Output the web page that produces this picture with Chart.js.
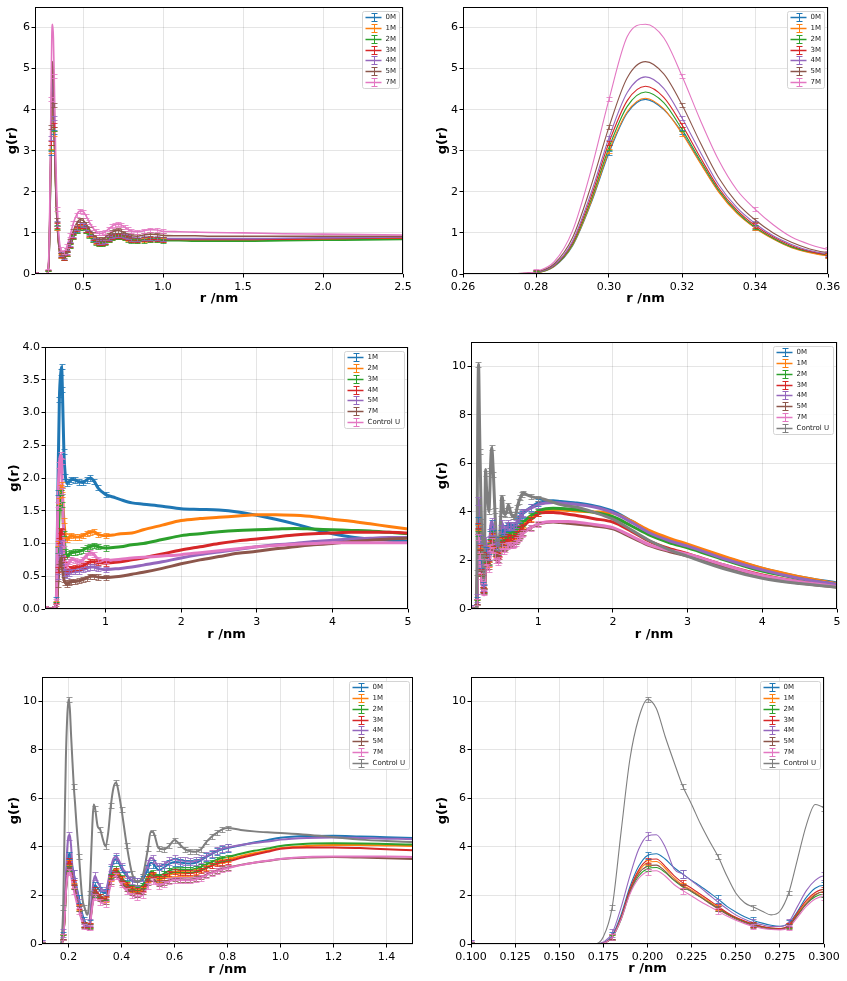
<!DOCTYPE html>
<html><head><meta charset="utf-8">
<script src="https://cdn.jsdelivr.net/npm/chart.js@4.4.1/dist/chart.umd.min.js"></script>
<style>
html,body{margin:0;padding:0;background:#fff;overflow:hidden;width:847px;height:981px;position:relative;}
canvas{position:absolute;}
</style></head><body>
<canvas id="p1"></canvas><canvas id="p2"></canvas><canvas id="p3"></canvas>
<canvas id="p4"></canvas><canvas id="p5"></canvas><canvas id="p6"></canvas>
<script>
// ---------------- DATA ----------------
// Dataset A (top row): RDF, series 0M..7M
const labelsA = ['0M','1M','2M','3M','4M','5M','7M'];
const rA = [0.20,0.27,0.275,0.28,0.285,0.29,0.295,0.30,0.305,0.31,0.315,0.32,0.325,0.33,0.335,0.34,0.345,0.35,0.355,0.36,
  0.37,0.38,0.40,0.42,0.44,0.46,0.48,0.50,0.52,0.54,0.56,0.58,0.60,0.62,0.64,0.66,0.68,0.70,0.72,0.74,0.76,0.78,
  0.80,0.84,0.88,0.92,0.96,1.00,1.10,1.20,1.30,1.50,1.75,2.00,2.25,2.50];
const A_0M = [0,0,0.01,0.03,0.18,0.68,1.7,2.95,3.92,4.25,4.0,3.45,2.72,2.02,1.5,1.13,0.86,0.65,0.53,0.45,
  0.39,0.39,0.5,0.7,0.92,1.08,1.16,1.15,1.07,0.96,0.86,0.79,0.76,0.76,0.79,0.85,0.9,0.93,0.94,0.93,0.9,0.87,
  0.84,0.83,0.85,0.86,0.86,0.85,0.84,0.84,0.84,0.84,0.85,0.86,0.87,0.88];
const A_1M = [0,0,0.01,0.03,0.19,0.7,1.73,3.0,3.95,4.28,4.02,3.42,2.7,2.0,1.48,1.12,0.85,0.64,0.52,0.44,
  0.38,0.38,0.49,0.69,0.9,1.06,1.14,1.13,1.05,0.94,0.84,0.77,0.74,0.74,0.77,0.83,0.88,0.91,0.91,0.9,0.88,0.85,
  0.82,0.81,0.83,0.84,0.84,0.83,0.83,0.83,0.83,0.83,0.83,0.84,0.85,0.86];
const A_2M = [0,0,0.01,0.03,0.2,0.72,1.78,3.08,4.08,4.43,4.17,3.52,2.77,2.05,1.52,1.14,0.87,0.66,0.54,0.46,
  0.38,0.38,0.48,0.68,0.89,1.05,1.13,1.12,1.04,0.93,0.83,0.76,0.73,0.73,0.76,0.82,0.87,0.9,0.9,0.89,0.87,0.84,
  0.81,0.8,0.81,0.82,0.82,0.81,0.81,0.8,0.8,0.8,0.81,0.82,0.83,0.84];
const A_3M = [0,0,0.01,0.04,0.21,0.76,1.86,3.2,4.22,4.57,4.3,3.63,2.84,2.1,1.56,1.18,0.9,0.69,0.55,0.47,
  0.4,0.4,0.51,0.71,0.93,1.09,1.17,1.16,1.08,0.97,0.87,0.8,0.76,0.76,0.79,0.85,0.9,0.93,0.93,0.92,0.9,0.87,
  0.84,0.83,0.85,0.85,0.85,0.84,0.84,0.84,0.84,0.84,0.85,0.86,0.87,0.88];
const A_4M = [0,0,0.01,0.04,0.22,0.8,1.95,3.32,4.42,4.8,4.52,3.8,2.97,2.18,1.62,1.23,0.93,0.72,0.57,0.49,
  0.41,0.41,0.53,0.74,0.96,1.12,1.21,1.2,1.11,1.0,0.9,0.82,0.78,0.78,0.81,0.87,0.92,0.95,0.95,0.94,0.92,0.89,
  0.86,0.85,0.87,0.87,0.87,0.86,0.86,0.86,0.86,0.86,0.87,0.88,0.89,0.9];
const A_5M = [0,0,0.01,0.05,0.25,0.88,2.12,3.58,4.78,5.17,4.87,4.12,3.2,2.35,1.74,1.32,1.0,0.77,0.61,0.52,
  0.45,0.45,0.58,0.81,1.05,1.23,1.32,1.31,1.21,1.09,0.97,0.89,0.85,0.85,0.89,0.96,1.02,1.05,1.06,1.04,1.0,0.96,
  0.93,0.92,0.95,0.97,0.96,0.94,0.93,0.93,0.92,0.92,0.92,0.92,0.92,0.92];
const A_7M = [0,0,0.01,0.06,0.3,1.05,2.5,4.25,5.78,6.08,5.75,4.82,3.75,2.78,2.05,1.58,1.2,0.9,0.72,0.6,
  0.54,0.54,0.68,0.95,1.24,1.44,1.53,1.52,1.41,1.26,1.13,1.04,0.99,0.99,1.03,1.1,1.16,1.2,1.21,1.19,1.14,1.09,
  1.05,1.03,1.05,1.08,1.07,1.04,1.03,1.02,1.01,1.0,0.98,0.97,0.96,0.95];
const errA = [0.05,0.05,0.05,0.05,0.05,0.05,0.05];

// Dataset B (middle left): series 1M..7M, Control U
const labelsB = ['1M','2M','3M','4M','5M','7M','Control U'];
const rB = [0.20,0.33,0.35,0.37,0.39,0.41,0.42,0.43,0.45,0.47,0.49,0.52,0.55,0.60,0.65,0.70,0.75,0.80,0.85,0.90,
  1.0,1.1,1.2,1.35,1.5,1.75,2.0,2.25,2.5,2.75,3.0,3.25,3.5,3.75,4.0,4.25,4.5,4.75,5.0];
const B_1M = [0,0,0.15,1.78,3.2,3.62,3.7,3.35,2.4,2.02,1.92,1.95,1.98,1.97,1.94,1.93,1.97,2.0,1.95,1.85,
  1.75,1.71,1.67,1.62,1.6,1.57,1.53,1.52,1.51,1.48,1.43,1.37,1.3,1.22,1.15,1.1,1.07,1.05,1.03];
const B_2M = [0,0,0.08,1.0,1.65,1.85,1.9,1.75,1.35,1.12,1.06,1.1,1.12,1.1,1.1,1.12,1.15,1.17,1.18,1.14,
  1.12,1.13,1.15,1.16,1.21,1.28,1.35,1.38,1.4,1.42,1.44,1.44,1.43,1.41,1.37,1.34,1.3,1.26,1.22];
const B_3M = [0,0,0.06,0.9,1.55,1.78,1.8,1.6,1.15,0.88,0.8,0.84,0.86,0.87,0.88,0.9,0.93,0.95,0.97,0.95,
  0.93,0.94,0.95,0.98,1.0,1.06,1.12,1.15,1.18,1.2,1.21,1.22,1.23,1.22,1.21,1.2,1.19,1.17,1.15];
const B_4M = [0,0,0.05,0.6,1.05,1.2,1.18,1.0,0.75,0.62,0.58,0.61,0.62,0.63,0.64,0.66,0.69,0.72,0.72,0.71,
  0.7,0.71,0.72,0.75,0.78,0.84,0.9,0.95,1.0,1.04,1.07,1.1,1.13,1.15,1.16,1.17,1.17,1.17,1.16];
const B_5M = [0,0,0.04,0.5,0.9,1.02,1.0,0.85,0.65,0.55,0.52,0.55,0.57,0.57,0.58,0.6,0.62,0.64,0.64,0.62,
  0.6,0.61,0.62,0.64,0.67,0.72,0.78,0.83,0.87,0.91,0.95,0.98,1.0,1.03,1.05,1.07,1.08,1.09,1.09];
const B_7M = [0,0,0.03,0.38,0.65,0.78,0.75,0.62,0.45,0.4,0.38,0.4,0.42,0.42,0.43,0.45,0.47,0.5,0.5,0.49,
  0.48,0.49,0.5,0.53,0.56,0.62,0.69,0.75,0.8,0.85,0.88,0.92,0.95,0.98,1.0,1.03,1.05,1.07,1.08];
const B_CU = [0,0,0.12,1.6,2.2,2.35,2.25,1.8,1.0,0.7,0.66,0.72,0.76,0.74,0.72,0.75,0.82,0.86,0.83,0.76,
  0.74,0.75,0.76,0.78,0.79,0.81,0.83,0.86,0.89,0.92,0.95,0.97,0.99,1.0,1.01,1.01,1.01,1.01,1.01];
const errB = [0.04,0.04,0.04,0.04,0.04,0.04,0.04];

// Dataset C (middle right + bottom row): series 0M..7M, Control U
const labelsC = ['0M','1M','2M','3M','4M','5M','7M','Control U'];
const rC = [0.10,0.17,0.175,0.18,0.185,0.19,0.195,0.20,0.205,0.21,0.215,0.22,0.225,0.23,0.235,0.24,0.245,0.25,0.255,0.26,
  0.265,0.27,0.275,0.28,0.285,0.29,0.295,0.30,
  0.31,0.32,0.33,0.34,0.35,0.36,0.37,0.38,0.39,0.40,
  0.42,0.44,0.46,0.48,0.50,0.51,0.52,
  0.54,0.56,0.58,0.60,0.62,0.64,0.66,0.68,0.70,0.72,0.74,0.76,0.78,0.80,
  0.85,0.90,0.95,1.00,1.10,1.20,1.30,1.40,1.50,1.75,2.00,2.25,2.50,2.75,3.00,3.50,4.00,4.50,5.00];
const C_0M = [0,0,0.05,0.35,1.2,2.35,3.2,3.65,3.72,3.5,3.15,2.88,2.62,2.38,2.12,1.85,1.55,1.32,1.12,0.97,
  0.86,0.77,0.73,0.85,1.35,1.92,2.3,2.42,
  2.3,2.2,2.12,2.1,2.5,3.05,3.4,3.5,3.35,3.1,
  2.8,2.6,2.55,2.65,3.1,3.35,3.3,
  3.05,3.15,3.3,3.38,3.36,3.33,3.32,3.35,3.45,3.58,3.7,3.82,3.9,3.95,
  4.07,4.18,4.28,4.38,4.45,4.46,4.43,4.4,4.37,4.25,4.03,3.62,3.18,2.88,2.63,2.12,1.67,1.32,1.07];
const C_1M = [0,0,0.03,0.28,1.05,2.2,2.98,3.35,3.4,3.12,2.72,2.42,2.22,1.98,1.74,1.5,1.27,1.08,0.93,0.8,
  0.71,0.65,0.63,0.76,1.25,1.72,2.05,2.15,
  2.05,1.95,1.86,1.84,2.2,2.68,2.95,3.0,2.85,2.65,
  2.4,2.23,2.15,2.25,2.65,2.85,2.82,
  2.65,2.72,2.84,2.92,2.9,2.9,2.92,2.97,3.05,3.15,3.25,3.35,3.42,3.47,
  3.62,3.74,3.84,3.95,4.04,4.08,4.08,4.06,4.04,4.0,3.95,3.62,3.22,2.92,2.67,2.16,1.68,1.33,1.04];
const C_2M = [0,0,0.03,0.27,1.0,2.1,2.8,3.1,3.15,2.95,2.62,2.35,2.15,1.93,1.7,1.47,1.25,1.07,0.92,0.8,
  0.71,0.65,0.63,0.74,1.2,1.65,1.95,2.05,
  2.05,1.98,1.9,1.9,2.3,2.8,3.05,3.1,2.95,2.75,
  2.5,2.35,2.32,2.42,2.8,2.98,2.95,
  2.8,2.9,3.02,3.08,3.07,3.06,3.06,3.1,3.18,3.28,3.38,3.47,3.54,3.58,
  3.72,3.84,3.93,4.04,4.13,4.15,4.14,4.12,4.1,3.98,3.8,3.42,3.03,2.74,2.52,2.02,1.56,1.25,1.0];
const C_3M = [0,0,0.04,0.3,1.1,2.25,3.05,3.45,3.5,3.2,2.82,2.52,2.3,2.05,1.8,1.55,1.3,1.1,0.95,0.82,
  0.72,0.66,0.64,0.78,1.3,1.8,2.12,2.25,
  2.1,1.98,1.88,1.86,2.25,2.75,3.0,3.05,2.9,2.7,
  2.45,2.28,2.2,2.3,2.7,2.92,2.88,
  2.72,2.8,2.92,2.98,2.96,2.94,2.93,2.95,3.02,3.12,3.22,3.3,3.36,3.4,
  3.55,3.68,3.8,3.92,3.98,3.98,3.95,3.9,3.86,3.72,3.58,3.2,2.78,2.5,2.28,1.8,1.4,1.12,0.94];
const C_4M = [0,0,0.08,0.45,1.5,2.8,3.9,4.45,4.5,4.0,3.1,2.88,2.6,2.32,2.02,1.72,1.45,1.2,1.02,0.88,
  0.79,0.72,0.72,0.9,1.55,2.2,2.62,2.8,
  2.55,2.35,2.22,2.18,2.6,3.15,3.52,3.6,3.45,3.2,
  2.85,2.62,2.55,2.75,3.3,3.55,3.5,
  3.2,3.28,3.42,3.5,3.45,3.42,3.4,3.42,3.5,3.62,3.73,3.85,3.93,3.98,
  4.08,4.16,4.22,4.3,4.37,4.39,4.37,4.34,4.32,4.2,3.97,3.57,3.12,2.82,2.59,2.06,1.61,1.26,1.01];
const C_5M = [0,0,0.03,0.3,1.05,2.15,2.9,3.2,3.25,3.0,2.65,2.38,2.17,1.93,1.68,1.45,1.22,1.03,0.88,0.76,
  0.67,0.62,0.6,0.72,1.18,1.65,2.02,2.15,
  1.98,1.86,1.78,1.76,2.1,2.58,2.82,2.88,2.75,2.55,
  2.3,2.12,2.05,2.15,2.52,2.72,2.7,
  2.48,2.55,2.63,2.68,2.67,2.66,2.66,2.69,2.76,2.86,2.95,3.03,3.1,3.15,
  3.26,3.35,3.42,3.5,3.56,3.58,3.56,3.53,3.5,3.42,3.3,2.95,2.6,2.37,2.18,1.72,1.3,1.07,0.9];
const C_7M = [0,0,0.03,0.28,1.0,2.05,2.7,2.98,3.02,2.8,2.45,2.2,1.98,1.75,1.55,1.35,1.15,0.98,0.84,0.72,
  0.64,0.6,0.58,0.68,1.1,1.55,1.85,1.95,
  1.85,1.74,1.67,1.66,2.0,2.5,2.75,2.8,2.65,2.45,
  2.18,2.0,1.93,2.03,2.4,2.6,2.58,
  2.4,2.48,2.58,2.65,2.64,2.63,2.63,2.66,2.73,2.83,2.92,3.0,3.07,3.12,
  3.25,3.35,3.43,3.5,3.58,3.6,3.6,3.6,3.58,3.48,3.35,3.0,2.63,2.42,2.26,1.8,1.38,1.12,0.92];
const C_CU = [0,0,0.3,1.52,4.6,7.6,9.3,10.08,9.7,8.55,7.5,6.5,5.75,4.95,4.25,3.6,2.8,2.1,1.7,1.52,
  1.35,1.2,1.35,2.1,3.5,4.9,5.75,5.6,
  4.85,4.7,4.3,4.02,4.6,5.72,6.45,6.65,6.2,5.55,
  4.05,2.9,2.55,2.8,3.95,4.62,4.6,
  3.95,3.9,4.05,4.28,4.1,3.9,3.82,3.8,3.9,4.2,4.42,4.58,4.72,4.78,
  4.7,4.64,4.6,4.57,4.5,4.4,4.3,4.24,4.2,3.98,3.7,3.25,2.8,2.45,2.17,1.65,1.27,1.05,0.9];
const errC = [0.15,0.1,0.1,0.1,0.15,0.1,0.12,0.1];

// tick values
const xTicks1 = [0.5,1.0,1.5,2.0,2.5];
const xTicks2 = [0.26,0.28,0.30,0.32,0.34,0.36];
const xTicks34 = [1,2,3,4,5];
const xTicks5 = [0.2,0.4,0.6,0.8,1.0,1.2,1.4];
const xTicks6 = [0.100,0.125,0.150,0.175,0.200,0.225,0.250,0.275,0.300];
const yTicks12 = [0,1,2,3,4,5,6];
const yTicks3 = [0,0.5,1.0,1.5,2.0,2.5,3.0,3.5,4.0];
const yTicks456 = [0,2,4,6,8,10];

// ---------------- STYLE / DRAWING ----------------
const PAL = ['#1f77b4','#ff7f0e','#2ca02c','#d62728','#9467bd','#8c564b','#e377c2','#7f7f7f'];
Chart.defaults.font.family = '"DejaVu Sans", sans-serif';
Chart.defaults.color = '#000';

const framePlugin = {
  id: 'frame',
  afterDraw(chart) {
    const {ctx, chartArea: a} = chart;
    ctx.save();
    ctx.strokeStyle = '#000'; ctx.lineWidth = 1;
    ctx.strokeRect(Math.round(a.left) + 0.5, Math.round(a.top) + 0.5,
      Math.round(a.right - a.left) - 1, Math.round(a.bottom - a.top) - 1);
    ctx.restore();
  }
};

const errPlugin = {
  id: 'errbars',
  afterDatasetsDraw(chart, args, opts) {
    const {ctx, chartArea: a, scales: {x, y}} = chart;
    ctx.save();
    ctx.beginPath(); ctx.rect(a.left, a.top, a.right - a.left, a.bottom - a.top); ctx.clip();
    ctx.globalAlpha = opts.alpha;
    ctx.lineWidth = 1;
    const c = 3;
    chart.data.datasets.forEach(ds => {
      const e = ds.err;
      ctx.strokeStyle = ds.borderColor;
      ds.data.forEach(p => {
        if (opts.every) {
          const q = p.x / opts.every;
          if (Math.abs(q - Math.round(q)) > 1e-6) return;
        }
        if (p.x < x.min || p.x > x.max || p.x > opts.capMax + 1e-9) return;
        const px = Math.round(x.getPixelForValue(p.x)) + 0.5;
        const y1 = Math.round(y.getPixelForValue(p.y + e)) + 0.5;
        const y2 = Math.round(y.getPixelForValue(p.y - e)) + 0.5;
        ctx.beginPath();
        ctx.moveTo(px, y1); ctx.lineTo(px, y2);
        ctx.moveTo(px - c, y1); ctx.lineTo(px + c, y1);
        ctx.moveTo(px - c, y2); ctx.lineTo(px + c, y2);
        ctx.stroke();
      });
    });
    ctx.restore();
  }
};

const legendPlugin = {
  id: 'boxlegend',
  afterDraw(chart) {
    const {ctx, chartArea: a} = chart;
    const ds = chart.data.datasets;
    ctx.save();
    ctx.font = '7px "DejaVu Sans"';
    const tw = Math.max(...ds.map(d => ctx.measureText(d.label).width));
    const rowH = 10.9;
    const w = 23 + tw + 4;
    const h = 5.3 + rowH * (ds.length - 1) + 6.5;
    const bx = Math.round(a.right - 4 - w) + 0.5, by = Math.round(a.top + 4) + 0.5;
    ctx.beginPath();
    ctx.roundRect(bx, by, Math.round(w), Math.round(h), 2);
    ctx.fillStyle = 'rgba(255,255,255,0.85)';
    ctx.fill();
    ctx.strokeStyle = '#d4d4d4'; ctx.lineWidth = 1;
    ctx.stroke();
    ds.forEach((d, i) => {
      const cy = Math.round(by + 5.3 + rowH * i) + 0.5;
      ctx.strokeStyle = d.borderColor;
      ctx.lineWidth = 1.5;
      ctx.beginPath(); ctx.moveTo(bx + 3, cy); ctx.lineTo(bx + 19, cy); ctx.stroke();
      ctx.lineWidth = 1;
      const mx = Math.round(bx + 11) + 0.5;
      ctx.beginPath();
      ctx.moveTo(mx, cy - 4); ctx.lineTo(mx, cy + 4);
      ctx.moveTo(mx - 3, cy - 4); ctx.lineTo(mx + 3, cy - 4);
      ctx.moveTo(mx - 3, cy + 4); ctx.lineTo(mx + 3, cy + 4);
      ctx.stroke();
      ctx.fillStyle = '#222';
      ctx.textBaseline = 'middle';
      ctx.textAlign = 'left';
      ctx.fillText(d.label, bx + 23, cy);
    });
    ctx.restore();
  }
};

function buildChart(id, geo, xs, ys, rArr, series, opts) {
  const padT = 12, padR = 20;
  const cv = document.getElementById(id);
  cv.width = geo.W + (geo.R - geo.L) + padR;
  cv.height = padT + (geo.B - geo.T) + geo.H;
  cv.style.left = (geo.L - geo.W) + 'px';
  cv.style.top = (geo.T - padT) + 'px';
  const datasets = series.map((s, i) => ({
    label: s.label,
    data: rArr.map((x, k) => ({x: x, y: s.g[k]})),
    err: s.err,
    borderColor: s.color, backgroundColor: s.color,
    borderWidth: opts.lw, pointRadius: 0, pointHitRadius: 0, pointHoverRadius: 0,
    cubicInterpolationMode: 'monotone', fill: false,
    order: series.length - i
  }));
  const tickFont = {family: 'DejaVu Sans', size: 11};
  const titleFont = {family: 'DejaVu Sans', size: 13, weight: 'bold'};
  const grid = {color: 'rgba(0,0,0,0.1)', lineWidth: 1, tickColor: '#000', tickLength: 3.5, drawTicks: true};
  return new Chart(cv, {
    type: 'line',
    data: {datasets},
    options: {
      responsive: false, animation: false, devicePixelRatio: 1, events: [],
      layout: {padding: {left: 0, top: padT, right: padR, bottom: 0}},
      plugins: {legend: {display: false}, tooltip: {enabled: false},
        errbars: {every: opts.every, alpha: opts.errAlpha, capMax: opts.capMax}},
      scales: {
        x: {type: 'linear', position: 'bottom', min: xs.min, max: xs.max,
          afterBuildTicks: sc => { sc.ticks = xs.ticks.map(v => ({value: v})); },
          afterFit: sc => { sc.height = geo.H; },
          ticks: {font: tickFont, color: '#000', padding: 3, autoSkip: false, maxRotation: 0, minRotation: 0,
            callback: v => Number(v).toFixed(xs.dec)},
          grid: grid, border: {display: false},
          title: {display: true, text: 'r /nm', font: titleFont, color: '#000', padding: 0}
        },
        y: {type: 'linear', position: 'left', min: ys.min, max: ys.max,
          afterBuildTicks: sc => { sc.ticks = ys.ticks.map(v => ({value: v})); },
          afterFit: sc => { sc.width = geo.W; },
          ticks: {font: tickFont, color: '#000', padding: 1.5, autoSkip: false,
            callback: v => Number(v).toFixed(ys.dec)},
          grid: grid, border: {display: false},
          title: {display: true, text: 'g(r)', font: titleFont, color: '#000', padding: 0}
        }
      }
    },
    plugins: [framePlugin, errPlugin, legendPlugin]
  });
}

function mk(labels, arrays, errs) {
  return labels.map((l, i) => ({label: l, g: arrays[i], err: errs[i], color: PAL[i]}));
}

const serA = mk(labelsA, [A_0M, A_1M, A_2M, A_3M, A_4M, A_5M, A_7M], errA);
const serB = mk(labelsB, [B_1M, B_2M, B_3M, B_4M, B_5M, B_7M, B_CU], errB);
const serC = mk(labelsC, [C_0M, C_1M, C_2M, C_3M, C_4M, C_5M, C_7M, C_CU], errC);

buildChart('p1', {L: 35, T: 7, R: 403, B: 274, W: 30, H: 32},
  {min: 0.2, max: 2.5, ticks: xTicks1, dec: 1}, {min: 0, max: 6.5, ticks: yTicks12, dec: 0},
  rA, serA, {lw: 1.6, every: 0.02, errAlpha: 0.8, capMax: 1.0});
buildChart('p2', {L: 463, T: 7, R: 828, B: 274, W: 28, H: 32},
  {min: 0.26, max: 0.36, ticks: xTicks2, dec: 2}, {min: 0, max: 6.5, ticks: yTicks12, dec: 0},
  rA, serA, {lw: 1.1, every: 0.02, errAlpha: 0.8, capMax: 99});
buildChart('p3', {L: 45, T: 347, R: 408, B: 609, W: 38, H: 33},
  {min: 0.2, max: 5, ticks: xTicks34, dec: 0}, {min: 0, max: 4, ticks: yTicks3, dec: 1},
  rB, serB, {lw: 3, every: null, errAlpha: 0.8, capMax: 1.0});
buildChart('p4', {L: 471, T: 342, R: 837, B: 609, W: 36, H: 33},
  {min: 0.1, max: 5, ticks: xTicks34, dec: 0}, {min: 0, max: 11, ticks: yTicks456, dec: 0},
  rC, serC, {lw: 3, every: 0.02, errAlpha: 0.8, capMax: 1.0});
buildChart('p5', {L: 42, T: 677, R: 413, B: 944, W: 35, H: 33},
  {min: 0.1, max: 1.5, ticks: xTicks5, dec: 1}, {min: 0, max: 11, ticks: yTicks456, dec: 0},
  rC, serC, {lw: 2, every: 0.02, errAlpha: 0.8, capMax: 0.8});
buildChart('p6', {L: 471, T: 677, R: 824, B: 944, W: 36, H: 32},
  {min: 0.1, max: 0.3, ticks: xTicks6, dec: 3}, {min: 0, max: 11, ticks: yTicks456, dec: 0},
  rC, serC, {lw: 1.1, every: 0.02, errAlpha: 0.8, capMax: 99});
</script>
</body></html>
